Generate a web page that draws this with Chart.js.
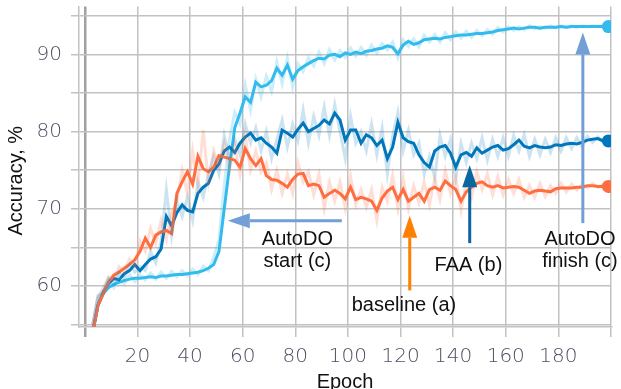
<!DOCTYPE html>
<html>
<head>
<meta charset="utf-8">
<script src="https://cdn.jsdelivr.net/npm/chart.js@4.4.1/dist/chart.umd.min.js"></script>
<style>
  body { margin: 0; background: #fff; }
</style>
</head>
<body>
<canvas id="chart" width="621" height="389"></canvas>
<script>
const epochs = [
  3, 5, 7, 9, 11, 13, 15, 17, 19, 21,
  23, 25, 27, 29, 31, 33, 35, 37, 39, 41,
  43, 45, 47, 49, 51, 53, 55, 57, 59, 61,
  63, 65, 67, 69, 71, 73, 75, 77, 79, 81,
  83, 85, 87, 89, 91, 93, 95, 97, 99, 101,
  103, 105, 107, 109, 111, 113, 115, 117, 119, 121,
  123, 125, 127, 129, 131, 133, 135, 137, 139, 141,
  143, 145, 147, 149, 151, 153, 155, 157, 159, 161,
  163, 165, 167, 169, 171, 173, 175, 177, 179, 181,
  183, 185, 187, 189, 191, 193, 195, 197, 199
];

// smoothed curves
const autodo = [
  54.0, 57.5, 59.0, 59.8, 60.2, 60.5, 60.7, 60.9, 61.0, 61.0,
  61.1, 61.2, 61.1, 61.3, 61.3, 61.4, 61.5, 61.5, 61.6, 61.7,
  61.8, 62.0, 62.3, 62.8, 64.5, 70.0, 75.5, 80.5, 82.4, 84.5,
  83.8, 86.4, 85.8, 86.0, 86.6, 88.2, 87.3, 88.6, 86.8, 87.9,
  88.4, 88.8, 89.2, 89.5, 89.4, 89.9, 90.0, 89.7, 90.2, 90.0,
  90.3, 90.1, 90.4, 90.5, 90.7, 90.8, 91.1, 90.9, 90.1, 91.2,
  91.7, 91.3, 91.5, 91.9, 92.0, 92.1, 92.0, 92.2, 92.3, 92.4,
  92.5, 92.5, 92.6, 92.7, 92.7, 92.8, 92.9, 93.1, 93.2, 93.3,
  93.4, 93.3, 93.4, 93.5, 93.5, 93.4, 93.5, 93.5, 93.5, 93.6,
  93.5, 93.6, 93.6, 93.6, 93.6, 93.6, 93.6, 93.6, 93.6
];
const faa = [
  54.0, 57.5, 59.2, 60.3, 61.0, 60.8, 61.6, 62.0, 62.8, 62.0,
  62.8, 63.5, 63.8, 64.8, 69.0, 67.8, 69.5, 70.5, 69.8, 69.6,
  72.0, 72.8, 73.3, 75.0, 75.8, 77.5, 78.0, 77.3, 78.5, 79.3,
  79.8, 78.9, 79.2, 78.5, 78.0, 77.2, 80.2, 79.8, 79.3, 80.3,
  81.1, 80.0, 80.4, 80.8, 81.5, 81.0, 82.4, 81.5, 78.9, 80.2,
  80.2, 78.5, 79.6, 79.2, 78.2, 78.9, 76.5, 78.0, 81.2, 79.2,
  78.7, 78.5, 77.0, 76.0, 75.4, 77.5, 78.0, 78.2, 77.2, 75.4,
  77.0, 77.3, 76.8, 77.9, 77.2, 77.6, 78.0, 78.2, 77.6, 77.8,
  78.3, 78.9, 78.1, 77.9, 78.2, 78.0, 77.9, 78.0, 78.3, 78.2,
  78.4, 78.5, 78.4, 78.6, 78.9, 79.0, 79.1, 78.8, 78.8
];
const baseline = [
  54.0, 57.5, 59.0, 60.5, 61.4, 61.8, 62.3, 62.8, 63.4, 64.5,
  66.2, 65.0, 66.6, 67.0, 67.2, 66.8, 72.0, 73.5, 74.8, 73.2,
  76.8, 75.2, 74.8, 75.4, 76.9, 76.7, 76.5, 76.3, 75.4, 77.8,
  76.5, 75.6, 76.5, 74.3, 73.8, 73.7, 73.3, 72.8, 73.8, 74.5,
  74.6, 73.0, 73.2, 73.0, 71.5, 72.0, 72.4, 72.0, 71.3, 72.8,
  71.2, 71.5, 71.3, 71.0, 69.8, 71.4, 72.3, 72.8, 71.2, 72.5,
  71.0, 71.5, 72.0, 71.0, 72.5, 72.8, 72.4, 73.6, 73.0, 72.5,
  71.0, 72.2, 72.8, 73.3, 73.5, 73.0, 72.8, 73.0, 72.7, 72.8,
  72.9, 72.8, 72.4, 72.0, 72.3, 72.4, 72.3, 72.2, 72.6, 72.7,
  72.7, 72.7, 72.8, 72.8, 73.0, 73.0, 72.9, 72.9, 72.9
];

// raw (faded) curves
const autodoRaw = [
  55.0, 58.5, 59.5, 60.8, 59.8, 61.2, 60.3, 61.5, 60.6, 61.5,
  60.8, 61.7, 60.9, 61.8, 61.0, 61.9, 61.2, 62.0, 61.3, 62.2,
  61.5, 62.6, 62.0, 63.8, 66.0, 73.0, 79.0, 82.5, 81.0, 86.0,
  82.8, 86.8, 84.5, 87.2, 85.2, 89.0, 86.2, 89.5, 85.8, 88.8,
  87.8, 89.6, 88.5, 90.3, 88.8, 90.6, 89.3, 90.5, 89.6, 90.8,
  89.8, 90.9, 89.9, 91.2, 90.2, 91.4, 90.6, 91.6, 89.6, 91.9,
  91.0, 92.0, 91.0, 92.5, 91.6, 92.6, 91.6, 92.8, 91.9, 92.9,
  92.1, 93.0, 92.2, 93.1, 92.4, 93.2, 92.6, 93.5, 92.9, 93.6,
  93.1, 93.6, 93.2, 93.7, 93.3, 93.6, 93.4, 93.7, 93.4, 93.7,
  93.5, 93.7, 93.5, 93.7, 93.6, 93.7, 93.6, 93.7, 93.6
];
const faaRaw = [
  55.0, 58.8, 59.0, 61.0, 60.2, 61.8, 61.0, 62.8, 61.8, 62.5,
  62.0, 64.5, 63.0, 65.8, 72.5, 66.5, 71.0, 69.0, 71.5, 68.5,
  73.5, 71.5, 74.5, 76.8, 74.5, 79.5, 76.5, 79.0, 77.0, 81.0,
  78.5, 80.5, 77.5, 80.0, 76.5, 79.0, 81.5, 78.0, 81.0, 78.8,
  82.8, 78.5, 82.0, 79.5, 83.2, 79.5, 83.5, 80.0, 76.5, 82.0,
  78.5, 80.0, 77.5, 81.0, 77.0, 80.5, 74.5, 79.5, 82.5, 77.5,
  80.2, 77.0, 78.5, 74.5, 76.8, 74.0, 79.5, 76.8, 79.0, 74.0,
  78.5, 76.0, 78.5, 76.5, 79.2, 76.3, 79.0, 76.8, 79.2, 76.8,
  79.5, 77.5, 79.6, 76.8, 79.0, 77.0, 79.0, 77.3, 79.2, 77.5,
  79.2, 77.8, 79.2, 78.0, 79.4, 78.6, 79.3, 78.7, 78.9
];
const baselineRaw = [
  55.0, 58.5, 59.8, 61.2, 60.8, 62.5, 61.8, 63.5, 62.6, 65.8,
  64.5, 67.5, 65.5, 68.5, 66.0, 69.5, 71.0, 75.0, 72.0, 77.5,
  73.0, 80.2, 73.5, 77.5, 75.5, 78.5, 75.0, 78.2, 74.5, 79.5,
  75.0, 77.5, 74.8, 76.0, 72.5, 75.0, 72.0, 74.5, 72.0, 76.0,
  73.5, 74.8, 71.8, 74.5, 70.0, 73.5, 71.0, 73.5, 70.0, 74.2,
  70.5, 72.5, 70.2, 72.5, 68.5, 72.8, 71.0, 74.3, 70.0, 74.0,
  70.0, 73.0, 70.8, 73.5, 70.5, 74.0, 71.2, 75.0, 72.0, 74.0,
  69.8, 73.5, 71.5, 74.8, 72.5, 74.5, 71.8, 74.2, 71.8, 73.8,
  72.0, 73.8, 71.5, 73.0, 71.5, 73.3, 71.6, 73.0, 72.0, 73.3,
  72.2, 73.2, 72.4, 73.2, 72.7, 73.3, 72.8, 73.1, 72.9
];

const xTicks = [0, 20, 40, 60, 80, 100, 120, 140, 160, 180, 200];
const yTicks = [55, 60, 65, 70, 75, 80, 85, 90, 95];
const xLabels = [20, 40, 60, 80, 100, 120, 140, 160, 180];
const yLabels = [60, 70, 80, 90];

// arrows and notes, in data coordinates (epoch, accuracy)
const arrows = [
  { from: [97.7, 68.45], to: [54.35, 68.45], color: '#719fd6' },
  { from: [123.5, 59.44], to: [123.5, 69.1], color: '#ff8000' },
  { from: [146.3, 65.56], to: [146.3, 75.64], color: '#0a65a0' },
  { from: [189.3, 68.15], to: [189.3, 92.84], color: '#719fd6' }
];
const notes = [
  { text: 'AutoDO', epoch: 80.8, acc: 65.3 },
  { text: 'start (c)', epoch: 80.8, acc: 62.46 },
  { text: 'baseline (a)', epoch: 121.3, acc: 56.77 },
  { text: 'FAA (b)', epoch: 145.8, acc: 61.98 },
  { text: 'AutoDO', epoch: 188.2, acc: 65.3 },
  { text: 'finish (c)', epoch: 188.2, acc: 62.46 }
];

const pts = vals => vals.map((v, i) => ({ x: epochs[i], y: v }));
const lastOnly = r => ctx => ctx.dataIndex === epochs.length - 1 ? r : 0;

function rawSet(vals, color) {
  return { data: pts(vals), borderColor: color, borderWidth: 3, pointRadius: 0, tension: 0 };
}
function mainSet(vals, color) {
  return {
    data: pts(vals), borderColor: color, backgroundColor: color, borderWidth: 3,
    pointRadius: lastOnly(6.5), pointBorderWidth: 0, tension: 0
  };
}

function drawArrow(ctx, x1, y1, x2, y2, color) {
  const ang = Math.atan2(y2 - y1, x2 - x1);
  const len = 22, half = 7.5;
  const bx = x2 - Math.cos(ang) * len, by = y2 - Math.sin(ang) * len;
  ctx.strokeStyle = color;
  ctx.fillStyle = color;
  ctx.lineWidth = 3;
  ctx.beginPath();
  ctx.moveTo(x1, y1);
  ctx.lineTo(bx, by);
  ctx.stroke();
  ctx.beginPath();
  ctx.moveTo(x2, y2);
  ctx.lineTo(bx + Math.sin(ang) * half, by - Math.cos(ang) * half);
  ctx.lineTo(bx - Math.sin(ang) * half, by + Math.cos(ang) * half);
  ctx.closePath();
  ctx.fill();
}

const annotate = {
  id: 'annotate',
  afterDatasetsDraw(chart) {
    const { ctx, chartArea } = chart;
    const x = chart.scales.x, y = chart.scales.y;
    ctx.save();
    arrows.forEach(a => {
      drawArrow(ctx,
        x.getPixelForValue(a.from[0]), y.getPixelForValue(a.from[1]),
        x.getPixelForValue(a.to[0]), y.getPixelForValue(a.to[1]), a.color);
    });
    ctx.font = '20px "Liberation Sans", Arial, sans-serif';
    ctx.fillStyle = '#111';
    ctx.textAlign = 'center';
    ctx.textBaseline = 'alphabetic';
    notes.forEach(n => ctx.fillText(n.text, x.getPixelForValue(n.epoch), y.getPixelForValue(n.acc)));

    // y axis title
    ctx.translate(16, (chartArea.top + chartArea.bottom) / 2 + 14);
    ctx.rotate(-Math.PI / 2);
    ctx.textBaseline = 'middle';
    ctx.fillText('Accuracy, %', 0, 0);
    ctx.restore();
  }
};

const gridColor = '#c2c2c2';
const tickFont = { family: '"DejaVu Sans", sans-serif', size: 20, weight: '200' };

new Chart(document.getElementById('chart'), {
  type: 'line',
  data: {
    datasets: [
      rawSet(baselineRaw, 'rgba(255,110,64,0.22)'),
      rawSet(faaRaw, 'rgba(0,119,187,0.2)'),
      rawSet(autodoRaw, 'rgba(51,187,238,0.25)'),
      mainSet(baseline, '#ff6e40'),
      mainSet(faa, '#0077bb'),
      mainSet(autodo, '#33bbee')
    ]
  },
  options: {
    responsive: false,
    animation: false,
    layout: { padding: { top: 6, right: 10, left: 0, bottom: 0 } },
    plugins: { legend: { display: false }, tooltip: { enabled: false } },
    scales: {
      x: {
        type: 'linear',
        min: -2.2,
        max: 200,
        afterBuildTicks: s => { s.ticks = xTicks.map(v => ({ value: v })); },
        afterFit: s => { s.height = 62; s.paddingLeft = 0; s.paddingRight = 0; },
        grid: {
          color: c => c.tick && c.tick.value === 0 ? '#a0a0a0' : gridColor,
          lineWidth: c => c.tick && c.tick.value === 0 ? 2.5 : 1.5,
          tickLength: 10
        },
        border: { display: true, color: gridColor, width: 1.5 },
        ticks: {
          autoSkip: false,
          maxRotation: 0,
          padding: 8,
          color: '#4f4f62',
          font: tickFont,
          callback: v => xLabels.includes(v) ? String(v) : ''
        },
        title: {
          display: true,
          text: 'Epoch',
          color: '#111',
          padding: 0,
          font: { family: '"Liberation Sans", Arial, sans-serif', size: 20, lineHeight: 0.66 }
        }
      },
      y: {
        min: 54.7,
        max: 96.2,
        afterBuildTicks: s => { s.ticks = yTicks.map(v => ({ value: v })); },
        afterFit: s => { s.width = 79; s.paddingTop = 0; s.paddingBottom = 0; },
        grid: { color: gridColor, lineWidth: 1.5, tickLength: 8 },
        border: { display: true, color: gridColor, width: 1.5 },
        ticks: {
          autoSkip: false,
          padding: 9,
          color: '#4f4f62',
          font: tickFont,
          callback: v => yLabels.includes(v) ? String(v) : ''
        }
      }
    }
  },
  plugins: [annotate]
});
</script>
</body>
</html>
